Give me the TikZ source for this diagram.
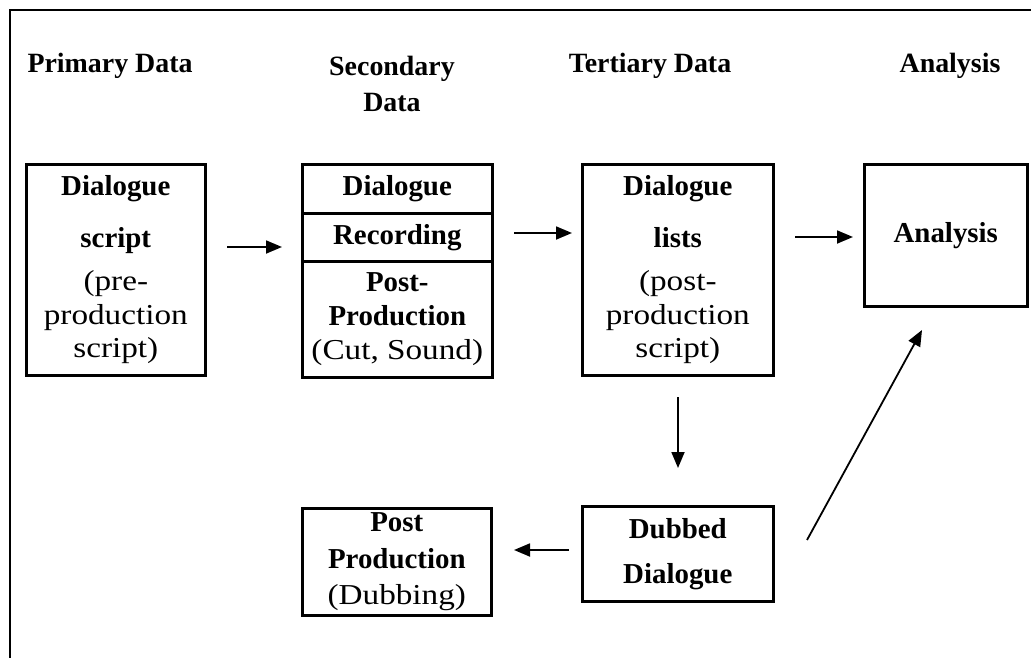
\documentclass[tikz,border=0pt]{standalone}
\usepackage{fontspec}
\setmainfont{Liberation Serif}
\newfontfamily\rgfont[FakeStretch=1.15]{Liberation Serif}
\usetikzlibrary{arrows.meta}
\begin{document}
\begin{tikzpicture}[x=1bp,y=-1bp,
  box/.style={draw, line width=2.6bp, inner sep=0pt, align=center, anchor=north west,
    font=\fontsize{29}{34}\selectfont},
  hdr/.style={font=\bfseries\fontsize{28}{36}\selectfont, align=center, inner sep=0pt},
  arr/.style={line width=1.8bp, -{Triangle[length=16bp,width=13bp]}}]
\useasboundingbox (0,0) rectangle (1031,658);
\draw[line width=2.8bp] (1031,10) -- (10,10) -- (10,658);

% headers
\node[hdr] (h1) at (110,66) {Primary Data};
\node[hdr] (h2) at (392,84) {Secondary\\Data};
\node[hdr] (h3) at (650,66) {Tertiary Data};
\node[hdr] (h4) at (950,66) {Analysis};

% boxes
\node[box, minimum width=179bp, minimum height=211bp] (b1) at (25,163)
  {\textbf{Dialogue}\\[18bp]\textbf{script}\\[9bp]{\rgfont (pre-}\\{\rgfont production}\\{\rgfont script)}};
\node[box, minimum width=190bp, minimum height=49bp] (b2a) at (301,163) {\textbf{Dialogue}};
\node[box, minimum width=190bp, minimum height=48bp] (b2b) at (301,212) {\textbf{Recording}};
\node[box, minimum width=190bp, minimum height=116bp] (b2c) at (301,260)
  {\textbf{Post-}\\\textbf{Production}\\{\rgfont (Cut, Sound)}};
\node[box, minimum width=191bp, minimum height=211bp] (b3) at (581,163)
  {\textbf{Dialogue}\\[18bp]\textbf{lists}\\[9bp]{\rgfont (post-}\\{\rgfont production}\\{\rgfont script)}};
\node[box, minimum width=163bp, minimum height=142bp] (b4) at (863,163)
  {\textbf{Analysis}};
\node[box, minimum width=191bp, minimum height=95bp] (b5) at (581,505)
  {\textbf{Dubbed}\\[11bp]\textbf{Dialogue}};
\node[box, minimum width=189bp, minimum height=107bp] (b6) at (301,507)
  {\textbf{Post}\\[3bp]\textbf{Production}\\[2bp]{\rgfont (Dubbing)}};

% connector end points
\coordinate (a1s) at (227,247); \coordinate (a1e) at (282,247);
\coordinate (a2s) at (514,233); \coordinate (a2e) at (572,233);
\coordinate (a3s) at (795,237); \coordinate (a3e) at (853,237);
\coordinate (a4s) at (678,397); \coordinate (a4e) at (678,468);
\coordinate (a5s) at (569,550); \coordinate (a5e) at (514,550);
\coordinate (a6s) at (807,540); \coordinate (a6e) at (922,330);

\draw[arr] (a1s) -- (a1e);
\draw[arr] (a2s) -- (a2e);
\draw[arr] (a3s) -- (a3e);
\draw[arr] (a4s) -- (a4e);
\draw[arr] (a5s) -- (a5e);
\draw[arr] (a6s) -- (a6e);
\end{tikzpicture}
\end{document}
